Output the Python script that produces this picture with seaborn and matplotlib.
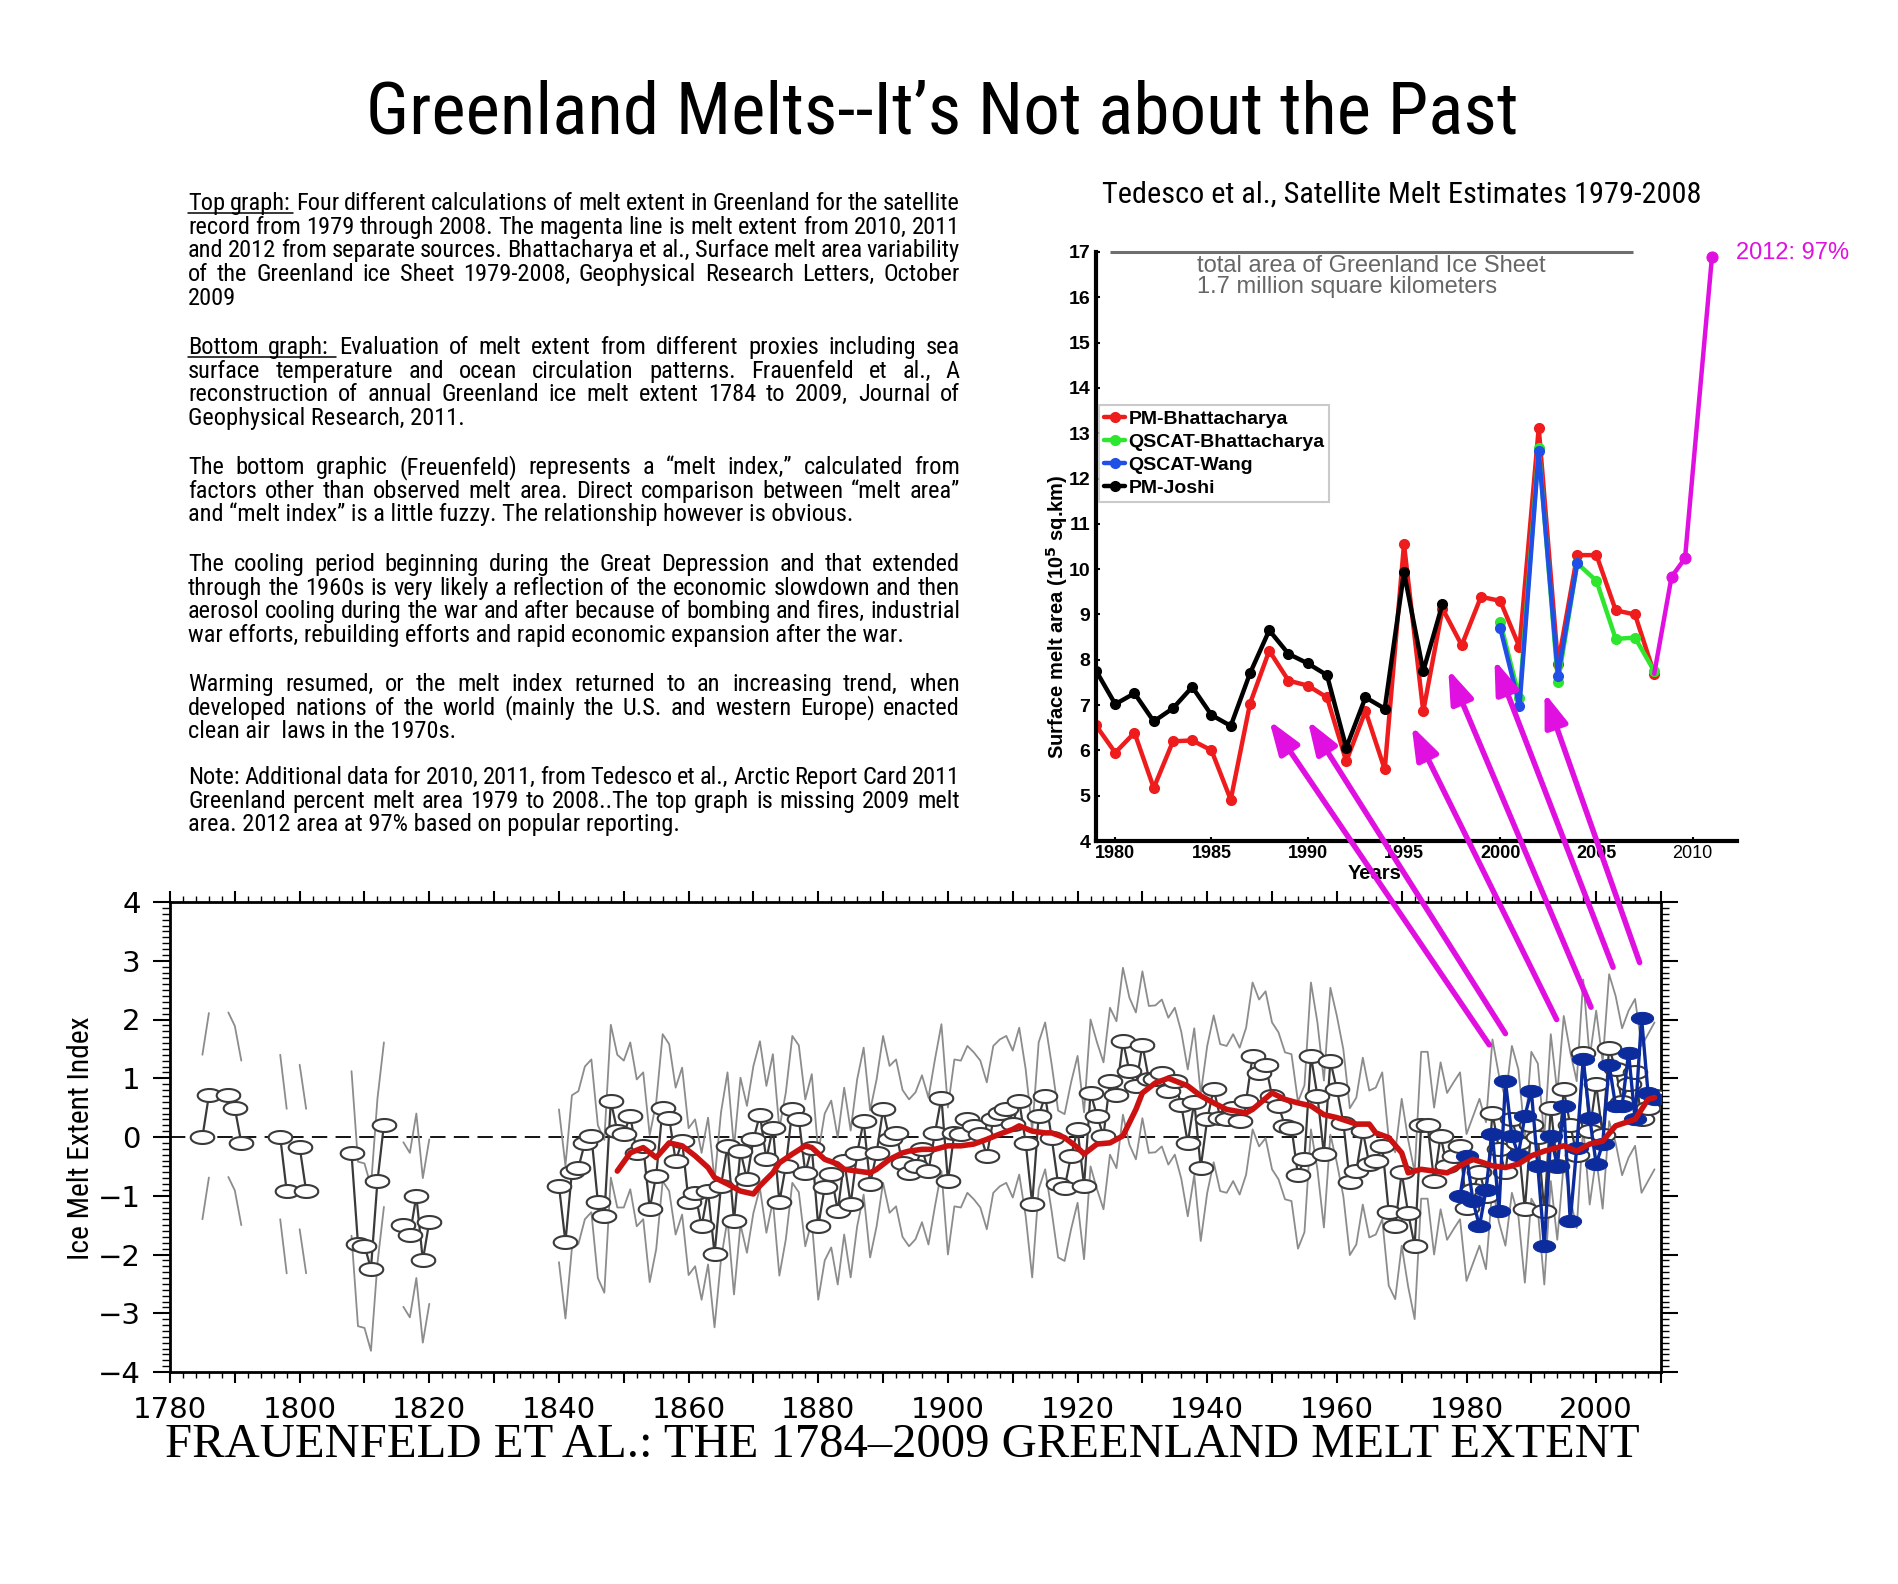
import matplotlib
matplotlib.use("Agg")
import matplotlib.pyplot as plt
import numpy as np
import pandas as pd
import seaborn as sns
from matplotlib import font_manager
from matplotlib.lines import Line2D
from matplotlib.patches import ArrowStyle, ConnectionPatch
from matplotlib.path import Path
from matplotlib.ticker import MultipleLocator

W, H = 1898, 1584

sns.set_theme(style="white")
plt.rcParams.update(
    {
        "font.family": ["Liberation Sans", "DejaVu Sans"],
        "text.color": "black",
        "axes.edgecolor": "black",
        "axes.labelcolor": "black",
        "xtick.color": "black",
        "ytick.color": "black",
    }
)

_installed = {f.name for f in font_manager.fontManager.ttflist}
_condensed = [n for n in ("Liberation Sans Narrow", "Roboto Condensed", "Noto Sans Condensed",
                          "Open Sans Condensed") if n in _installed]
NARROW = [_condensed[0] if _condensed else "Liberation Sans", "DejaVu Sans"]

# ---------------- top chart data (10^5 sq km) ----------------
YEARS_PM_B = list(range(1979, 2009))
PM_BHATTACHARYA = [6.55, 5.95, 6.39, 5.17, 6.20, 6.22, 6.00, 4.91, 7.03, 8.20,
                   7.54, 7.43, 7.17, 5.76, 6.87, 5.58, 10.55, 6.86, 9.13, 8.32,
                   9.39, 9.30, 8.28, 13.12, 7.91, 10.31, 10.31, 9.09, 9.00, 7.69]
YEARS_QSCAT_B = list(range(2000, 2009))
QSCAT_BHATTACHARYA = [8.83, 7.15, 12.68, 7.50, 10.13, 9.74, 8.46, 8.49, 7.75]
YEARS_QSCAT_W = list(range(2000, 2005))
QSCAT_WANG = [8.70, 6.98, 12.61, 7.65, 10.13]
YEARS_PM_J = list(range(1979, 1998))
PM_JOSHI = [7.76, 7.02, 7.26, 6.64, 6.93, 7.40, 6.78, 6.54, 7.70, 8.65,
            8.13, 7.92, 7.66, 6.06, 7.17, 6.92, 9.93, 7.75, 9.23]
MAGENTA_X = [2008, 2008.9, 2009.6, 2011.0]
MAGENTA_VALUES = [7.69, 9.83, 10.24, 16.9]
ICE_SHEET_TOTAL = 17
ICE_SHEET_LINE = (1979.75, 2006.9)

# ---------------- bottom chart data (melt index) ----------------
RECON_EARLY_YEARS = [1785, 1786, 1789, 1790, 1791, 1797, 1798, 1800, 1801,
                     1808, 1809, 1810, 1811, 1812, 1813, 1816, 1817, 1818, 1819, 1820]
RECON_EARLY = [0.00, 0.71, 0.72, 0.49, -0.10, 0.00, -0.92, -0.17, -0.92,
               -0.28, -1.82, -1.85, -2.24, -0.75, 0.21, -1.49, -1.67, -1.00, -2.10, -1.44]
RECON_LATE_YEARS = list(range(1840, 2010))
RECON_LATE = [
    -0.83, -1.79, -0.59, -0.52, -0.10, 0.02, -1.10, -1.35, 0.61, 0.10,   # 1840s
    0.05, 0.36, -0.27, -0.15, -1.22, -0.66, 0.50, 0.33, -0.41, -0.07,    # 1850s
    -1.10, -0.95, -1.52, -0.92, -1.99, -0.83, -0.15, -1.43, -0.24, -0.72,  # 1860s
    -0.04, 0.38, -0.38, 0.16, -1.11, -0.49, 0.47, 0.31, -0.61, -0.18,    # 1870s
    -1.52, -0.85, -0.63, -1.26, -0.41, -1.14, -0.27, 0.27, -0.80, -0.27,  # 1880s
    0.47, -0.04, 0.07, -0.45, -0.61, -0.49, -0.20, -0.58, 0.07, 0.67,    # 1890s
    -0.75, 0.07, 0.05, 0.30, 0.19, 0.05, -0.32, 0.30, 0.41, 0.47,        # 1900s
    0.22, 0.61, -0.10, -1.14, 0.36, 0.70, -0.01, -0.80, -0.86, -0.32,    # 1910s
    0.13, -0.83, 0.75, 0.36, 0.02, 0.95, 0.72, 1.63, 1.12, 0.87,         # 1920s
    1.57, 0.98, 0.99, 1.09, 0.78, 0.95, 0.54, -0.10, 0.60, -0.52,        # 1930s
    0.30, 0.82, 0.33, 0.30, 0.50, 0.27, 0.61, 1.38, 1.09, 1.23,          # 1940s
    0.70, 0.53, 0.19, 0.16, -0.65, -0.37, 1.38, 0.70, -0.29, 1.29,       # 1950s
    0.81, 0.24, -0.76, -0.58, 0.10, -0.46, -0.41, -0.15, -1.28, -1.51,   # 1960s
    -0.60, -1.30, -1.85, 0.20, 0.20, -0.75, 0.02, -0.50, -0.32, -0.15,   # 1970s
    -1.20, -0.90, -0.60, -1.00, 0.41, -0.20, -0.60, 0.30, -0.10, -1.23,  # 1980s
    0.20, 0.00, -1.26, 0.50, -0.50, 0.81, 0.20, -0.30, 1.43, 0.10,       # 1990s
    0.90, 0.03, 1.52, 1.15, 0.60, 0.90, 1.10, 0.30, 0.50, 0.70,          # 2000s
]
# 95% interval half-width read per reconstruction era
BAND_ERA_START = [1780, 1835, 1850]
BAND_HALF_WIDTH = [1.40, 1.30, 1.25]

OBS_YEARS = list(range(1979, 2010))
OBS_VALUES = [-1.00, -0.32, -1.09, -1.52, -0.90, 0.05, -1.26, 0.95, 0.02, -0.30,
              0.36, 0.78, -0.50, -1.85, 0.02, -0.49, 0.53, -1.43, -0.18, 1.32,
              0.33, -0.46, -0.12, 1.23, 0.53, 0.53, 1.43, 0.30, 2.03, 0.75, 0.64]

SMOOTH_YEARS = [1849, 1851, 1853, 1855, 1857, 1859, 1861, 1863, 1864, 1866, 1868,
                1870, 1871, 1873, 1874, 1876, 1878, 1879, 1881, 1883, 1884, 1886,
                1888, 1889, 1891, 1893, 1894, 1896, 1898, 1900, 1902, 1904, 1906,
                1908, 1910, 1911, 1913, 1915, 1916, 1918, 1920, 1921, 1923, 1925,
                1927, 1929, 1930, 1932, 1934, 1937, 1939, 1941, 1943, 1946, 1947,
                1950, 1952, 1954, 1956, 1958, 1960, 1963, 1965, 1966, 1968, 1970,
                1971, 1973, 1975, 1977, 1979, 1981, 1984, 1986, 1988, 1990, 1992,
                1995, 1997, 1999, 2001, 2003, 2006, 2008, 2009]
SMOOTH_VALUES = [-0.58, -0.27, -0.18, -0.35, -0.10, -0.15, -0.32, -0.52, -0.69, -0.80, -0.92,
                 -0.97, -0.83, -0.61, -0.44, -0.29, -0.15, -0.18, -0.38, -0.46, -0.55, -0.58,
                 -0.61, -0.55, -0.38, -0.27, -0.24, -0.21, -0.21, -0.15, -0.15, -0.12, -0.04,
                 0.05, 0.13, 0.19, 0.10, 0.07, 0.07, -0.01, -0.18, -0.29, -0.12, -0.10,
                 0.02, 0.47, 0.75, 0.92, 1.00, 0.87, 0.70, 0.58, 0.47, 0.41, 0.47,
                 0.75, 0.64, 0.58, 0.53, 0.38, 0.33, 0.22, 0.22, 0.07, -0.01, -0.27,
                 -0.61, -0.55, -0.58, -0.61, -0.49, -0.38, -0.49, -0.52, -0.46, -0.32, -0.24,
                 -0.15, -0.24, -0.12, -0.07, 0.19, 0.30, 0.64, 0.67]

# arrows: bottom-chart point -> top-chart point
ARROW_BOTTOM_YEAR = [1983.5, 1986.0, 1993.9, 1999.2, 2002.6, 2006.7]
ARROW_BOTTOM_VALUE = [1.57, 1.76, 2.00, 2.21, 2.89, 2.97]
ARROW_TOP_YEAR = [1988.0, 1990.0, 1995.4, 1997.3, 1999.7, 2002.3]
ARROW_TOP_VALUE = [6.66, 6.66, 6.54, 7.79, 8.00, 7.27]

PARAGRAPHS = [
    ["Top graph: Four different calculations of melt extent in Greenland for the satellite",
     "record from 1979 through 2008. The magenta line is melt extent from 2010, 2011",
     "and 2012 from separate sources. Bhattacharya et al., Surface melt area variability",
     "of the Greenland ice Sheet 1979-2008, Geophysical Research Letters, October",
     "2009"],
    ["Bottom graph: Evaluation of melt extent from different proxies including sea",
     "surface temperature and ocean circulation patterns. Frauenfeld et al., A",
     "reconstruction of annual Greenland ice melt extent 1784 to 2009, Journal of",
     "Geophysical Research, 2011."],
    ["The bottom graphic  (Freuenfeld) represents a \u201cmelt index,\u201d  calculated from",
     "factors other than observed melt area. Direct comparison between \u201cmelt area\u201d",
     "and \u201cmelt index\u201d is a little fuzzy. The relationship however is obvious."],
    ["The cooling period beginning during the Great Depression and that extended",
     "through the 1960s is very likely a reflection of the economic slowdown and then",
     "aerosol cooling during the war and after because of bombing and fires, industrial",
     "war efforts, rebuilding efforts and rapid economic expansion after the war."],
    ["Warming resumed, or the melt index returned to an increasing trend, when",
     "developed nations of the world (mainly the U.S. and western Europe) enacted",
     "clean air  laws in the 1970s."],
    ["Note: Additional data for 2010, 2011, from Tedesco et al., Arctic Report Card 2011",
     "Greenland percent melt area 1979 to 2008..The top graph is missing 2009 melt",
     "area. 2012 area at 97% based on popular reporting."],
]
PARA_BASELINE = [210, 354, 474, 571, 691, 784]
UNDERLINED = [2, 2, 0, 0, 0, 0]
LINE_PITCH = 23.7
TEXT_LEFT, TEXT_RIGHT = 188, 960

MAGENTA = "#e010e0"
RED = "#ee1c1c"
GREEN = "#2ee62e"
BLUE = "#1f4fe6"
NAVY = "#0c2c9e"
DARK = "#3a3a3a"
GRAY = "#8c8c8c"

theta = np.linspace(0, 2 * np.pi, 49)
ELLIPSE = Path(np.column_stack([np.cos(theta), 0.55 * np.sin(theta)]))


def fx(px):
    return px / W


def fy(py):
    return 1 - py / H


fig = plt.figure(figsize=(W / 100, H / 100), dpi=100, facecolor="white")
renderer = fig.canvas.get_renderer()


def fit_length(artist, target_px, vertical=False):
    bb = artist.get_window_extent(renderer)
    size = bb.height if vertical else bb.width
    artist.set_fontsize(artist.get_fontsize() * target_px / size)


# ======================= top chart =======================
ax_t = fig.add_axes([fx(1096), fy(841), 641 / W, 589 / H])
series = [
    ("PM-Bhattacharya", YEARS_PM_B, PM_BHATTACHARYA, RED),
    ("QSCAT-Bhattacharya", YEARS_QSCAT_B, QSCAT_BHATTACHARYA, GREEN),
    ("QSCAT-Wang", YEARS_QSCAT_W, QSCAT_WANG, BLUE),
    ("PM-Joshi", YEARS_PM_J, PM_JOSHI, "black"),
]
for name, yrs, vals, col in series:
    sns.lineplot(x=yrs, y=vals, ax=ax_t, color=col, lw=3.2, marker="o", markersize=7,
                 markeredgecolor=col, markeredgewidth=1, label=name, errorbar=None)
sns.lineplot(x=MAGENTA_X, y=MAGENTA_VALUES, ax=ax_t, color=MAGENTA, lw=3.2, marker="o",
             markersize=8, markeredgecolor=MAGENTA, markevery=[1, 2, 3], errorbar=None,
             legend=False, clip_on=False, zorder=6)
ax_t.hlines(ICE_SHEET_TOTAL, *ICE_SHEET_LINE, color="#6e6e6e", lw=2.2, clip_on=False)

ax_t.set_xlim(1979.0, 2012.3)
ax_t.set_ylim(4, 17)
ax_t.set_xticks(range(1980, 2011, 5))
ax_t.set_yticks(range(4, 18))
for side in ("top", "right"):
    ax_t.spines[side].set_visible(False)
for side in ("left", "bottom"):
    ax_t.spines[side].set_linewidth(3)
ax_t.tick_params(bottom=True, left=True, direction="in", length=3, width=1.5, labelsize=14, pad=4)
ax_t.tick_params(axis="x", labelsize=13, pad=3)
for lab in ax_t.get_xticklabels() + ax_t.get_yticklabels():
    lab.set_fontweight("bold")
ax_t.get_xticklabels()[-1].set_fontweight("normal")
ax_t.set_xlabel("Years", fontweight="bold", fontsize=14.5, va="center")
ax_t.xaxis.set_label_coords(0.434, -0.056)
ax_t.set_ylabel("Surface melt area (10$^{\\mathbf{5}}$ sq.km)", fontweight="bold", fontsize=14.5, va="center")
ax_t.yaxis.set_label_coords(-0.061, 0.38)

leg = ax_t.legend(loc="upper left", bbox_to_anchor=(0.005, 0.74), borderaxespad=0, frameon=True,
                  fancybox=False, edgecolor="#bdbdbd", prop=dict(weight="bold", size=14),
                  handlelength=1.1, handletextpad=0.15, labelspacing=0.28, borderpad=0.25)
leg.get_frame().set_linewidth(1.5)

fig.text(fx(1197), fy(272), "total area of Greenland Ice Sheet", color="#666666", fontsize=17, va="baseline")
fig.text(fx(1197), fy(293), "1.7 million square kilometers", color="#666666", fontsize=17, va="baseline")
fig.text(fx(1736), fy(253), "2012: 97%", color=MAGENTA, fontsize=17, va="center")

# ======================= bottom chart =======================
ax_b = fig.add_axes([fx(170), fy(1372), 1491 / W, 470 / H])
recon = pd.DataFrame({"year": RECON_EARLY_YEARS + RECON_LATE_YEARS,
                      "index": RECON_EARLY + RECON_LATE})
recon["segment"] = (recon["year"].diff() > 1).cumsum()
era = np.searchsorted(BAND_ERA_START, recon["year"], side="right") - 1
recon["half"] = np.asarray(BAND_HALF_WIDTH)[era]
recon["upper"] = recon["index"] + recon["half"]
recon["lower"] = recon["index"] - recon["half"]

ax_b.axhline(0, color="black", lw=1.3, dashes=(8.5, 4.6), zorder=1)
for col in ("upper", "lower"):
    sns.lineplot(data=recon, x="year", y=col, units="segment", estimator=None, color=GRAY,
                 lw=1.3, ax=ax_b, legend=False, zorder=2)
sns.lineplot(data=recon, x="year", y="index", units="segment", estimator=None, color=DARK,
             lw=1.6, marker=ELLIPSE, markersize=17, markerfacecolor="white",
             markeredgecolor=DARK, markeredgewidth=1.5, ax=ax_b, legend=False, zorder=3)
sns.lineplot(x=OBS_YEARS, y=OBS_VALUES, color=NAVY, lw=2.4, marker=ELLIPSE, markersize=16,
             markerfacecolor=NAVY, markeredgecolor=NAVY, ax=ax_b, errorbar=None, zorder=4)
sns.lineplot(x=SMOOTH_YEARS, y=SMOOTH_VALUES, color="#cc1111", lw=4, ax=ax_b,
             errorbar=None, zorder=5)

ax_b.set_xlim(1780, 2010)
ax_b.set_ylim(-4, 4)
xt = list(range(1780, 2011, 10))
ax_b.set_xticks(xt)
ax_b.set_xticklabels([str(y) if y % 20 == 0 and y < 2010 else "" for y in xt])
ax_b.xaxis.set_minor_locator(MultipleLocator(2))
ax_b.set_yticks(range(-4, 5))
ax_b.yaxis.set_minor_locator(MultipleLocator(0.1))
for side in ax_b.spines.values():
    side.set_linewidth(2)
ax_b.tick_params(which="both", direction="out", top=True, right=True, bottom=True, left=True,
                 labeltop=False, labelright=False)
ax_b.tick_params(axis="x", which="major", length=8, width=1.5, labelsize=21, pad=9,
                 labelfontfamily="DejaVu Sans")
ax_b.tick_params(axis="x", which="minor", length=4, width=1)
ax_b.tick_params(axis="y", which="major", length=12, width=1.5, labelsize=21, pad=9,
                 labelfontfamily="DejaVu Sans")
ax_b.tick_params(axis="y", which="minor", length=6, width=1)
ax_b.set_xlabel("")
ax_b.set_ylabel("Ice Melt Extent Index", family=NARROW, fontsize=23, va="center")
ax_b.yaxis.set_label_coords(-0.0597, 0.498)
fit_length(ax_b.yaxis.label, 244, vertical=True)

fig.text(fx(902), fy(1445), "FRAUENFELD ET AL.: THE 1784\u20132009 GREENLAND MELT EXTENT",
         family="Liberation Serif", fontsize=35, ha="center", va="center")

# ======================= arrows linking the charts =======================
head = ArrowStyle("-|>", head_length=1.0, head_width=0.35)
for bx, bv, tx, tv in zip(ARROW_BOTTOM_YEAR, ARROW_BOTTOM_VALUE, ARROW_TOP_YEAR, ARROW_TOP_VALUE):
    con = ConnectionPatch(xyA=(bx, bv), coordsA=ax_b.transData, xyB=(tx, tv), coordsB=ax_t.transData,
                          arrowstyle=head, mutation_scale=20, color=MAGENTA, lw=4,
                          shrinkA=0, shrinkB=0)
    con.set_zorder(10)
    fig.add_artist(con)

# ======================= titles and notes =======================
title = fig.text(fx(942), fy(133), "Greenland Melts--It\u2019s Not about the Past", family=NARROW,
                 fontsize=50, ha="center", va="baseline")
fit_length(title, 1153)
sub = fig.text(fx(1402), fy(203), "Tedesco et al., Satellite Melt Estimates 1979-2008", family=NARROW,
               fontsize=20, ha="center", va="baseline")
fit_length(sub, 597)

# body text: justified lines; one common size, shrunk only if a line would not fit
BODY = dict(family=NARROW, va="baseline", ha="left")
body_size = 18.0
probe = fig.text(0, 0, "x", fontsize=body_size, **BODY)
worst = 1.0
for lines in PARAGRAPHS:
    for line in lines:
        words = line.split()
        total = 0.0
        for w in words:
            probe.set_text(w)
            total += probe.get_window_extent(renderer).width
        room = TEXT_RIGHT - TEXT_LEFT - 4.5 * (len(words) - 1)
        worst = min(worst, room / total)
probe.remove()
body_size *= worst

for lines, base, n_under in zip(PARAGRAPHS, PARA_BASELINE, UNDERLINED):
    for i, line in enumerate(lines):
        yb = base + i * LINE_PITCH
        if i == len(lines) - 1:
            fig.text(fx(TEXT_LEFT), fy(yb), line, fontsize=body_size, **BODY)
            continue
        words = line.split()
        arts = [fig.text(0, fy(yb), w, fontsize=body_size, **BODY) for w in words]
        widths = [a.get_window_extent(renderer).width for a in arts]
        gap = (TEXT_RIGHT - TEXT_LEFT - sum(widths)) / (len(words) - 1)
        x = TEXT_LEFT
        starts = []
        for a, w in zip(arts, widths):
            a.set_x(fx(x))
            starts.append(x)
            x += w + gap
        if i == 0 and n_under:
            x_end = starts[n_under] - 3
            fig.add_artist(Line2D([fx(TEXT_LEFT), fx(x_end)], [fy(yb + 3)] * 2, color="black",
                                  lw=1.1, transform=fig.transFigure))

fig.savefig("out.png", dpi=100, facecolor="white")
